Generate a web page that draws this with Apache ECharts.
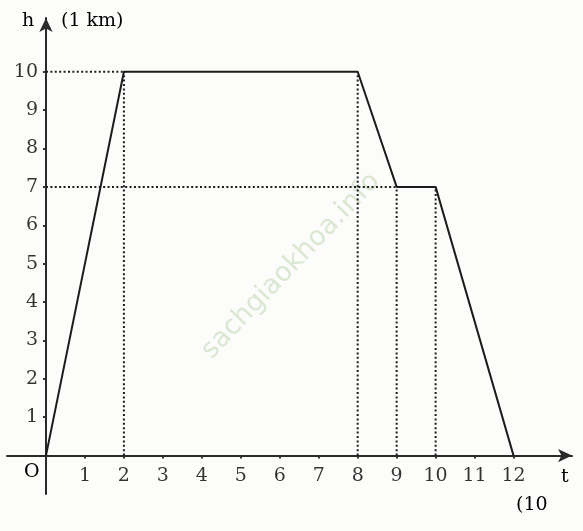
<!DOCTYPE html>
<html>
<head>
<meta charset="utf-8">
<script src="https://cdn.jsdelivr.net/npm/echarts@6/dist/echarts.min.js"></script>
<style>
html,body{margin:0;padding:0;background:#fcfcfb;}
#c{width:583px;height:531px;}
</style>
</head>
<body>
<div id="c"></div>
<script>
// Data
var pathT = [0, 2, 8, 9, 10, 12];
var pathH = [0, 10, 10, 7, 7, 0];
var xTicks = [1,2,3,4,5,6,7,8,9,10,11,12];
var yTicks = [1,2,3,4,5,6,7,8,9,10];
// dotted guide segments: [x1, y1, x2, y2]
var guides = [
  [0, 10, 2, 10],
  [2, 0, 2, 10],
  [0, 7, 9, 7],
  [8, 0, 8, 10],
  [9, 0, 9, 7],
  [10, 0, 10, 7]
];

var FONT = 'DejaVu Serif';
var FS = 19;
var INK = '#000000';
var TXT = FS + 'px "DejaVu Serif"';

var series = [];
guides.forEach(function (g) {
  series.push({
    type: 'line', symbol: 'none', silent: true, z: 2,
    data: [[g[0], g[1]], [g[2], g[3]]],
    lineStyle: { color: '#1c1c1c', width: 2, type: [2, 2.4] }
  });
});
series.push({
  type: 'line', symbol: 'none', z: 3,
  data: pathT.map(function (t, i) { return [t, pathH[i]]; }),
  lineStyle: { color: '#1c1c1c', width: 2 }
});
// tick labels via scatter labels on the scales
series.push({
  type: 'scatter', symbolSize: 0, silent: true,
  data: xTicks.map(function (v) { return [v, 0]; }),
  label: { show: true, position: 'bottom', distance: 11, formatter: function (p) { return p.value[0]; },
    fontFamily: FONT, fontSize: FS, color: INK }
});
series.push({
  type: 'scatter', symbolSize: 0, silent: true,
  data: yTicks.map(function (v) { return [0, v]; }),
  label: { show: true, position: 'left', distance: 8, formatter: function (p) { return p.value[1]; },
    fontFamily: FONT, fontSize: FS, color: INK }
});

var chart = echarts.init(document.getElementById('c'));
chart.setOption({
  backgroundColor: '#fcfcfb',
  animation: false,
  grid: { left: 7, right: 11, top: 18, bottom: 37, containLabel: false, outerBoundsMode: 'none' },
  xAxis: {
    type: 'value', min: -1, max: 13.5, interval: 1,
    splitLine: { show: false },
    axisLine: { onZero: true, lineStyle: { color: '#2a2a2a', width: 2 },
      symbol: ['none', 'arrow'], symbolSize: [10, 14] },
    axisTick: { show: true, customValues: xTicks, length: 3, lineStyle: { color: '#333', width: 2 } },
    axisLabel: { show: false }
  },
  yAxis: {
    type: 'value', min: -1, max: 11.4, interval: 1,
    splitLine: { show: false },
    axisLine: { onZero: true, lineStyle: { color: '#2a2a2a', width: 2 },
      symbol: ['none', 'arrow'], symbolSize: [10, 14] },
    axisTick: { show: true, customValues: yTicks, length: 3, lineStyle: { color: '#333', width: 2 } },
    axisLabel: { show: false }
  },
  series: series,
  graphic: [
    { type: 'text', left: 22, top: 12, style: { text: 'h', font: TXT, fill: INK } },
    { type: 'text', left: 61, top: 12, style: { text: '(1 km)', font: TXT, fill: INK } },
    { type: 'text', left: 24, top: 463, style: { text: 'O', font: TXT, fill: INK } },
    { type: 'text', left: 561, top: 468, style: { text: 't', font: TXT, fill: INK } },
    { type: 'text', left: 516, top: 496, style: { text: '(10', font: TXT, fill: INK } },
    { type: 'text', x: 291, y: 266, rotation: 0.81, z: -1,
      style: { text: 'sachgiaokhoa.info', font: '27px "DejaVu Sans"', fill: '#dae8d2',
        align: 'center', verticalAlign: 'middle' } }
  ]
});
</script>
</body>
</html>
